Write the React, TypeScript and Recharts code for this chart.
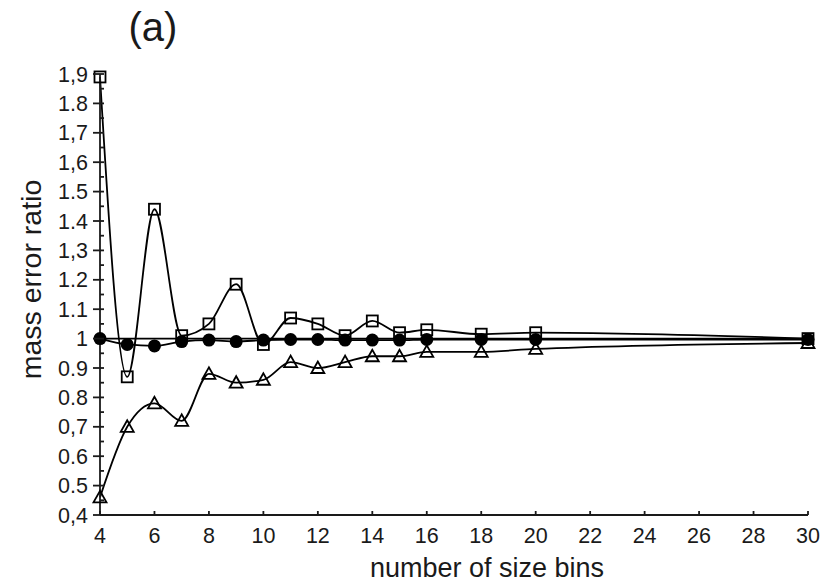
import { LineChart, Line, XAxis, YAxis, ReferenceLine, Label } from 'recharts';

// number of size bins on the x axis
const bins = [4, 5, 6, 7, 8, 9, 10, 11, 12, 13, 14, 15, 16, 18, 20, 30];

// mass error ratio for each scheme
const squareRatio = [1.89, 0.87, 1.44, 1.01, 1.05, 1.185, 0.98, 1.07, 1.05, 1.01, 1.06, 1.02, 1.03, 1.015, 1.02, 1.0];
const circleRatio = [1.0, 0.98, 0.975, 0.99, 0.995, 0.99, 0.995, 0.997, 0.997, 0.995, 0.995, 0.995, 0.997, 0.997, 0.997, 0.997];
const triangleRatio = [0.46, 0.7, 0.78, 0.72, 0.88, 0.85, 0.86, 0.92, 0.9, 0.92, 0.94, 0.94, 0.955, 0.955, 0.965, 0.985];

const xTicks = [4, 6, 8, 10, 12, 14, 16, 18, 20, 22, 24, 26, 28, 30];
const yMajorTicks = [0.4, 0.5, 0.6, 0.7, 0.8, 0.9, 1, 1.1, 1.2, 1.3, 1.4, 1.5, 1.6, 1.7, 1.8, 1.9];
const yTickLabels = ['0,4', '0.5', '0.6', '0,7', '0.8', '0.9', '1', '1.1', '1.2', '1,3', '1.4', '1.5', '1,6', '1,7', '1.8', '1,9'];
const yMinorTicks = yMajorTicks.slice(0, -1).map((v) => Math.round((v + 0.05) * 100) / 100);

const data = bins.map((n, i) => ({
  n,
  square: squareRatio[i],
  circle: circleRatio[i],
  triangle: triangleRatio[i],
}));

const FONT = '"Liberation Sans", Arial, sans-serif';
const INK = '#1a1a1a';
const TICK_SIZE = 6;
const TICK_MARGIN = 4;
const STROKE = 1.8;

function yLabel(value: number) {
  const idx = yMajorTicks.findIndex((t) => Math.abs(t - value) < 1e-6);
  return idx >= 0 ? yTickLabels[idx] : undefined;
}

function YTick(props: any) {
  const { x, y, payload } = props;
  const axisX = x + TICK_SIZE + TICK_MARGIN;
  const label = yLabel(payload.value);
  if (label === undefined) {
    return <line x1={axisX} x2={axisX + 4} y1={y} y2={y} stroke={INK} strokeWidth={STROKE} />;
  }
  return (
    <g>
      <line x1={axisX - 7} x2={axisX + 4} y1={y} y2={y} stroke={INK} strokeWidth={STROKE} />
      <text x={axisX - 12} y={y + 7.5} textAnchor="end" fontSize={21.5} fontFamily={FONT} fill={INK}>
        {label}
      </text>
    </g>
  );
}

function XTick(props: any) {
  const { x, y, payload } = props;
  const axisY = y - TICK_SIZE - TICK_MARGIN;
  return (
    <g>
      <line x1={x} x2={x} y1={axisY} y2={axisY - 4} stroke={INK} strokeWidth={STROKE} />
      <text x={x} y={axisY + 28} textAnchor="middle" fontSize={21.5} fontFamily={FONT} fill={INK}>
        {payload.value}
      </text>
    </g>
  );
}

function SquareDot(props: any) {
  const { cx, cy, index } = props;
  return <rect key={`sq-${index}`} x={cx - 5.5} y={cy - 5.5} width={11} height={11} fill="none" stroke="#000" strokeWidth={STROKE} />;
}

function CircleDot(props: any) {
  const { cx, cy, index } = props;
  return <circle key={`ci-${index}`} cx={cx} cy={cy} r={6.5} fill="#000" />;
}

function TriangleDot(props: any) {
  const { cx, cy, index } = props;
  const pts = `${cx},${cy - 6.5} ${cx - 6.5},${cy + 5} ${cx + 6.5},${cy + 5}`;
  return <polygon key={`tr-${index}`} points={pts} fill="none" stroke="#000" strokeWidth={STROKE} />;
}

export default function App() {
  return (
    <div style={{ position: 'absolute', left: 0, top: 0, width: 825, height: 582, background: '#fff' }}>
      <LineChart width={825} height={582} data={data} margin={{ top: 74, right: 17, bottom: 7, left: 40 }}>
        <XAxis
          dataKey="n"
          type="number"
          domain={[4, 30]}
          ticks={xTicks}
          height={60}
          tickSize={TICK_SIZE}
          tickMargin={TICK_MARGIN}
          tickLine={false}
          axisLine={{ stroke: INK, strokeWidth: STROKE }}
          tick={<XTick />}
          interval={0}
        >
          <Label
            content={({ viewBox }: any) => (
              <text
                x={viewBox.x + viewBox.width / 2 + 33}
                y={viewBox.y + 62}
                textAnchor="middle"
                fontSize={27}
                fontFamily={FONT}
                fill={INK}
              >
                number of size bins
              </text>
            )}
          />
        </XAxis>
        <YAxis
          type="number"
          domain={[0.4, 1.9]}
          ticks={[...yMajorTicks, ...yMinorTicks]}
          width={60}
          tickSize={TICK_SIZE}
          tickMargin={TICK_MARGIN}
          tickLine={false}
          axisLine={{ stroke: INK, strokeWidth: STROKE }}
          tick={<YTick />}
          interval={0}
        >
          <Label
            content={({ viewBox }: any) => {
              const cx = viewBox.x - 9;
              const cy = viewBox.y + viewBox.height / 2 - 15;
              return (
                <text
                  x={cx}
                  y={cy}
                  transform={`rotate(-90, ${cx}, ${cy})`}
                  textAnchor="middle"
                  dominantBaseline="central"
                  fontSize={28.5}
                  fontFamily={FONT}
                  fill={INK}
                >
                  mass error ratio
                </text>
              );
            }}
          />
        </YAxis>
        <ReferenceLine y={1} stroke="#000" strokeWidth={STROKE} />
        <Line
          dataKey="square"
          type="monotone"
          stroke="#000"
          strokeWidth={STROKE}
          dot={<SquareDot />}
          isAnimationActive={false}
        />
        <Line
          dataKey="triangle"
          type="monotone"
          stroke="#000"
          strokeWidth={STROKE}
          dot={<TriangleDot />}
          isAnimationActive={false}
        />
        <Line
          dataKey="circle"
          type="monotone"
          stroke="#000"
          strokeWidth={STROKE}
          dot={<CircleDot />}
          isAnimationActive={false}
        />
      </LineChart>
      <svg width={825} height={60} style={{ position: 'absolute', left: 0, top: 0, pointerEvents: 'none' }}>
        <text x={153} y={41} textAnchor="middle" fontSize={40} fontFamily={FONT} fill={INK}>
          (a)
        </text>
      </svg>
    </div>
  );
}
